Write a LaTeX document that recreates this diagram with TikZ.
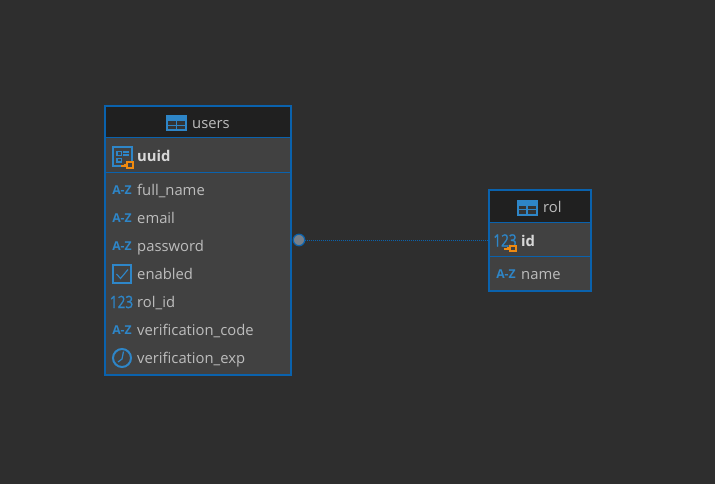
\documentclass[tikz,border=0pt]{standalone}
\usepackage{fontspec}
\usepackage{graphicx}
\setmainfont{Open Sans}
\newfontfamily\numfont[FakeBold=1.2]{Open Sans}
\definecolor{bg}{HTML}{2E2E2E}
\definecolor{hdr}{HTML}{202020}
\definecolor{body}{HTML}{414141}
\definecolor{edge}{HTML}{0A62AD}
\definecolor{ico}{HTML}{2E86C8}
\definecolor{txt}{HTML}{BDBDBD}
\definecolor{txtb}{HTML}{D8D8D8}
\definecolor{key}{HTML}{F08A10}
\definecolor{dot}{HTML}{77808A}
\tikzset{
 x=1pt,y=-1pt,
 tbl/.style={draw=edge,line width=2pt,fill=body,minimum width=#1,inner sep=0pt,outer sep=0pt},
 lbl/.style={text=txt,anchor=base west,inner sep=0pt,font=\fontsize{14.8}{16}\selectfont},
 lblb/.style={text=txtb,anchor=base west,inner sep=0pt,font=\fontsize{14.8}{16}\selectfont\bfseries},
 az/.style={text=ico,anchor=center,inner sep=0pt,font=\fontsize{12.2}{14}\selectfont\bfseries},
 num/.style={text=ico,anchor=center,inner sep=0pt,font=\numfont\fontsize{17}{18}\selectfont},
 rule/.style={draw=edge,line width=1pt},
 iconline/.style={draw=ico,line width=2pt},
 keyline/.style={draw=key,line width=2pt},
}
\newcommand{\tblicon}[2]{% x y of the centre
 \fill[ico] (#1-10.5,#2-8) rectangle (#1+10.5,#2+8);
 \fill[body!60!hdr] (#1-8.5,#2-2) rectangle (#1-0.7,#2+1.5);
 \fill[body!60!hdr] (#1+0.7,#2-2) rectangle (#1+8.5,#2+1.5);
 \fill[body!60!hdr] (#1-8.5,#2+2.7) rectangle (#1-0.7,#2+6);
 \fill[body!60!hdr] (#1+0.7,#2+2.7) rectangle (#1+8.5,#2+6);
}
\newcommand{\keyicon}[2]{% x y of the bow centre
 \fill[body] (#1-3,#2-3) rectangle (#1+3,#2+3);
 \draw[keyline] (#1-2.6,#2-2.6) rectangle (#1+2.6,#2+2.6);
 \draw[keyline] (#1-9,#2+.6) -- (#1-2.6,#2+.6);
 \draw[keyline] (#1-5,#2-1.4) -- (#1-5,#2+.6);
}
\begin{document}
\begin{tikzpicture}
\useasboundingbox (0,0) rectangle (715,484);
\fill[bg] (0,0) rectangle (715,484);
% users table
\node[tbl=186pt,minimum height=269pt,anchor=north west] (users) at (105,106) {};
\fill[hdr] (106,107) rectangle (290,138);
\draw[rule] (users.west |- 0,138) -- (users.east |- 0,138);
\draw[rule] (users.west |- 0,172.5) -- (users.east |- 0,172.5);
\tblicon{176.5}{123.5}
\node[lbl] (usersT) at (192,128.5) {users};
% uuid icon
\draw[iconline] (113,147) rectangle (131.5,166);
\draw[ico,line width=1.3pt] (117,151.5) rectangle (121.5,155.5) (117,158.5) rectangle (121.5,162);
\draw[ico,line width=1.2pt] (123,152) -- (129,152) (123,155) -- (129,155);
\keyicon{130}{165}
\node[lblb] (uuid) at (137,162) {uuid};
% columns
\node[az] (i1) at (122,190.5) {A-Z};
\node[lbl] (c1) at (137,195) {full\_name};
\node[az] (i2) at (122,218.5) {A-Z};
\node[lbl] (c2) at (137,223) {email};
\node[az] (i3) at (122,246.5) {A-Z};
\node[lbl] (c3) at (137,251) {password};
\draw[iconline] (113,265) rectangle (131,283);
\draw[ico,line width=1.1pt] (116.5,274) -- (120.5,278.5) -- (128,269.5);
\node[lbl] (c4) at (137,279) {enabled};
\node[num] (i5) at (121.5,302) {\scalebox{.8}[1]{123}};
\node[lbl] (c5) at (137,307) {rol\_id};
\node[az] (i6) at (122,330.5) {A-Z};
\node[lbl] (c6) at (137,335) {verification\_code};
\draw[iconline] (122,358) circle (9);
\draw[ico,line width=1.2pt] (123.5,351.5) -- (122,359) -- (118,362);
\node[lbl] (c7) at (137,363) {verification\_exp};
% rol table
\node[tbl=102pt,minimum height=101pt,anchor=north west] (rol) at (489,190) {};
\fill[hdr] (490,191) rectangle (590,222);
\draw[rule] (rol.west |- 0,222.5) -- (rol.east |- 0,222.5);
\draw[rule] (rol.west |- 0,256.5) -- (rol.east |- 0,256.5);
\tblicon{527}{207.5}
\node[lbl] (rolT) at (543,212.5) {rol};
\node[num] (i8) at (505,240.5) {\scalebox{.8}[1]{123}};
\keyicon{513}{248.5}
\node[lblb] (id) at (521,246) {id};
\node[az] (i9) at (506,274.5) {A-Z};
\node[lbl] (c9) at (521,279) {name};
% connector
\node[circle,fill=dot,draw=edge,line width=1.2pt,minimum size=11.5pt,inner sep=0pt] (end) at (299,240) {};
\coordinate (rolend) at (rol.west |- 0,240);
\draw[draw=edge,line width=1pt,dash pattern=on 1pt off 1pt] (end) -- (rolend);
\end{tikzpicture}
\end{document}
